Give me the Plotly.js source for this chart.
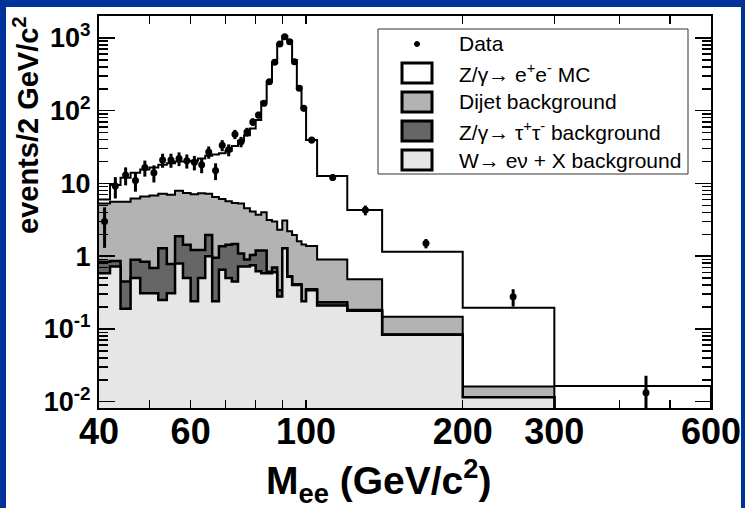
<!DOCTYPE html>
<html>
<head>
<meta charset="utf-8">
<script src="https://cdn.plot.ly/plotly-3.0.1.min.js"></script>
<style>
html,body{margin:0;padding:0;background:#003399;width:745px;height:508px;overflow:hidden;}
#chart{position:absolute;left:6px;top:7px;width:735px;height:501px;background:#ffffff;}
</style>
</head>
<body>
<div id="chart"></div>
<script>
// Bin edges of the mass histogram (GeV/c^2)
const binEdges = [40,42,44,46,48,50,52,54,56,58,60,62,64,66,68,70,72,74,76,78,80,82,84,86,88,90,92,94,96,98,100,105,120,140,200,300,600];

// Stacked contributions, events / 2 GeV/c^2 (one value per bin)
const wBkg     = [0.58,0.72,0.19,0.50,0.31,0.31,0.25,0.31,0.79,0.50,0.24,0.50,1.00,0.24,0.65,0.50,0.45,0.72,0.72,0.75,0.62,0.58,0.58,0.60,0.28,1.28,0.52,0.40,0.40,0.24,0.34,0.21,0.178,0.083,0.0115,0];
const tauBkg   = [0.26,0.14,0.26,0.39,0.53,0.38,1.03,0.47,1.09,0.93,0.98,0.72,0.95,0.71,0.72,0.93,1.02,0.37,0.18,0.29,0.58,0.62,0.03,0.10,0.06,0,0.01,0.01,0.01,0,0.01,0.023,0.004,0.001,0,0];
const dijetBkg = [4.46,4.74,5.15,5.31,5.76,6.11,5.92,6.22,6.02,5.97,5.88,6.08,5.25,5.55,4.73,4.27,3.93,4.21,3.65,3.06,2.5,2.8,2.54,2.3,1.96,1.82,1.67,1.54,1.19,1.21,1.03,0.667,0.298,0.063,0.0046,0];
const zeeMC    = [0.7,3.9,6.4,7.8,8.9,9.7,10.8,12.0,12.1,12.6,13.4,14.7,16.8,18.5,19.9,22.3,27.3,33.4,41.5,52.9,70.8,129,247,453,822,1057,914,495,211,106.5,38.1,11.7,3.83,1.0,0.18,0.0164];

// Data points
const dataMass  = [41,43,45,47,49,51,53,55,57,59,61,63,65,67,69,71,73,75,77,79,81,83,85,87,89,91,93,95,97,99,102.5,112.5,130,170,250,450];
const dataValue = [3.0,9.2,13,11,16.5,14,21,21,22,20.5,19.5,18,27,15,33.5,29,47.5,37.5,51,70,87,126,250,462,824,1040,887,471,203,108,39.5,12.1,4.3,1.5,0.277,0.0133];
const dataError = [1.7,3.0,3.6,3.3,4.1,3.7,4.6,4.6,4.7,4.5,4.4,4.2,5.2,3.9,5.8,5.4,6.9,6.1,7.1,8.4,9.3,11.2,15.8,21.5,28.7,32.2,29.8,21.7,14.2,10.4,4.0,1.27,0.66,0.22,0.074,0.0094];

// Axis tick labels
const xTickVals = [40,60,100,200,300,600];
const xTickText = ['40','60','100','200','300','600'];
const xMinorVals = [50,70,80,90,400,500];
const yTickVals = [0.01,0.1,1,10,100,1000];
const yTickText = ['10<sup>-2</sup>','10<sup>-1</sup>','1','10','10<sup>2</sup>','10<sup>3</sup>'];

// Legend entries
const legendLabels = ['Data','Z/γ→ e<sup>+</sup>e<sup>-</sup> MC','Dijet background','Z/γ→ τ<sup>+</sup>τ<sup>-</sup> background','W→ eν + X background'];

const colZee = '#ffffff', colDijet = '#b3b3b3', colTau = '#666666', colW = '#e6e6e6';
const SANS = 'Liberation Sans, Arial, sans-serif';

function add(a,b){ return a.map((v,i)=>v+b[i]); }
const cumW = wBkg.slice();
const cumTau = add(cumW, tauBkg);
const cumDijet = add(cumTau, dijetBkg);
const cumTotal = add(cumDijet, zeeMC);

const FLOOR = 1e-4;
function stepPoly(vals){
  const xs=[], ys=[];
  for(let i=0;i<vals.length;i++){ xs.push(binEdges[i]); ys.push(vals[i]>0?vals[i]:FLOOR); }
  const last = binEdges[binEdges.length-1];
  xs.push(last); ys.push(ys[ys.length-1]);
  xs.push(last); ys.push(FLOOR);
  xs.push(binEdges[0]); ys.push(FLOOR);
  return {x:xs,y:ys};
}
function histTrace(vals, fillcolor, lw){
  const p = stepPoly(vals);
  return {x:p.x, y:p.y, type:'scatter', mode:'lines', fill:'toself', fillcolor:fillcolor,
          line:{shape:'hv', color:'#000', width:lw}, hoverinfo:'skip', showlegend:false};
}

const traces = [
  histTrace(cumTotal, colZee, 2),
  histTrace(cumDijet, colDijet, 2),
  histTrace(cumTau, colTau, 2.5),
  histTrace(cumW, colW, 2.5),
  {x:dataMass, y:dataValue, type:'scatter', mode:'markers', showlegend:false,
   marker:{color:'#000', size:7},
   error_y:{type:'data', array:dataError, visible:true, thickness:3, width:0, color:'#000'}}
];

// plot-area geometry in page pixels (for legend/annotation placement)
const PX0=99, PX1=711, PY0=16, PY1=408;
const px = v => (v-PX0)/(PX1-PX0);
const py = v => (PY1-v)/(PY1-PY0);

const shapes = [];
const annotations = [];
shapes.push({type:'rect', xref:'paper', yref:'paper', x0:px(378), x1:px(688), y0:py(174), y1:py(29),
  line:{color:'#333', width:1}, fillcolor:'#fff', layer:'above'});
const rowY = [44,73,102,131,160];
const legFills = [null, colZee, colDijet, colTau, colW];
rowY.forEach((ry,i)=>{
  if(i===0){
    shapes.push({type:'circle', xref:'paper', yref:'paper', x0:px(414.5), x1:px(419.5), y0:py(46.5), y1:py(41.5),
      fillcolor:'#000', line:{color:'#000', width:1}});
  } else {
    shapes.push({type:'rect', xref:'paper', yref:'paper', x0:px(402), x1:px(432), y0:py(ry+10), y1:py(ry-10),
      fillcolor:legFills[i], line:{color:'#000', width:3}});
  }
  annotations.push({xref:'paper', yref:'paper', x:px(457), y:py(ry), xanchor:'left', yanchor:'middle',
    text:legendLabels[i], showarrow:false, font:{family:SANS, size:21, color:'#000'}});
});

// axis titles
annotations.push({xref:'paper', yref:'paper', x:px(26), y:py(14), xanchor:'center', yanchor:'top', textangle:-90,
  text:'events/2 GeV/c<sup>2</sup>', showarrow:false,
  font:{family:SANS, size:29, weight:'bold', color:'#000'}});
annotations.push({xref:'paper', yref:'paper', x:px(378), y:py(451), xanchor:'center', yanchor:'top',
  text:'M<sub>ee</sub> (GeV/c<sup>2</sup>)', showarrow:false,
  font:{family:SANS, size:39, weight:'bold', color:'#000'}});

const minorY = [];
[0.01,0.1,1,10,100,1000].forEach(d=>{ for(let k=2;k<=9;k++){ minorY.push(d*k); } });

const layout = {
  width:735, height:501,
  margin:{l:93, r:30, t:9, b:100},
  paper_bgcolor:'#ffffff', plot_bgcolor:'#ffffff',
  showlegend:false,
  font:{family:SANS, color:'#000'},
  xaxis:{type:'log', range:[Math.log10(40), Math.log10(600)], showgrid:false, zeroline:false,
    showline:true, linecolor:'#000', linewidth:2, mirror:'allticks',
    ticks:'inside', ticklen:8, tickwidth:1.5, tickcolor:'#000',
    tickmode:'array', tickvals:xTickVals, ticktext:xTickText,
    tickfont:{family:SANS, size:36, weight:'bold', color:'#000'}, ticklabelstandoff:-9,
    ticklabeloverflow:'allow',
    minor:{tickmode:'array', tickvals:xMinorVals, ticks:'inside', ticklen:8, tickwidth:1.5, tickcolor:'#000', showgrid:false}},
  yaxis:{type:'log', range:[-2.087, 3.301], showgrid:false, zeroline:false,
    showline:true, linecolor:'#000', linewidth:2, mirror:'allticks',
    ticks:'inside', ticklen:16, tickwidth:1.5, tickcolor:'#000',
    tickmode:'array', tickvals:yTickVals, ticktext:yTickText,
    tickfont:{family:SANS, size:27, weight:'bold', color:'#000'}, ticklabelstandoff:1,
    minor:{tickmode:'array', tickvals:minorY, ticks:'inside', ticklen:9, tickwidth:1.5, tickcolor:'#000', showgrid:false}},
  shapes:shapes,
  annotations:annotations
};

Plotly.newPlot('chart', traces, layout, {staticPlot:true, displayModeBar:false});
</script>
</body>
</html>
